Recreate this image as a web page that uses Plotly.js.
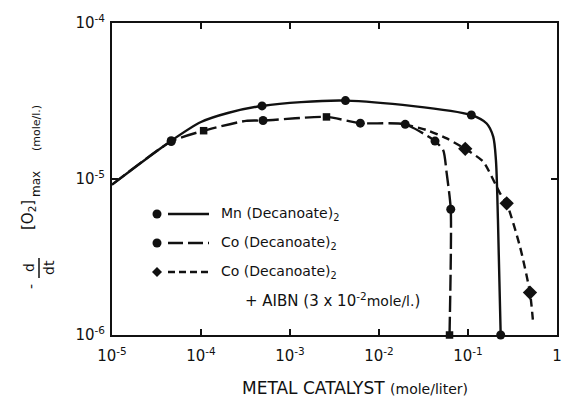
<!DOCTYPE html>
<html>
<head>
<meta charset="utf-8">
<script src="https://cdn.plot.ly/plotly-3.0.1.min.js"></script>
<style>
  html, body { margin: 0; padding: 0; background: #fff; }
  #chart { width: 562px; height: 402px; }
</style>
</head>
<body>
<div id="chart"></div>
<script>
// Maximum oxygen uptake rate vs. metal catalyst concentration (log-log)

// Mn (Decanoate)2 — solid curve
const mnX = [1.0e-5, 4.63e-5, 1.0e-4, 2.0e-4, 4.85e-4, 4.2e-3, 0.109, 0.162, 0.192, 0.206, 0.217, 0.233];
const mnY = [9.2e-6, 1.76e-5, 2.32e-5, 2.65e-5, 2.94e-5, 3.18e-5, 2.57e-5, 2.27e-5, 1.87e-5, 1.32e-5, 5.5e-6, 1.0e-6];
const mnMarked = [0, 1, 0, 0, 1, 1, 1, 0, 0, 0, 0, 1];

// Co (Decanoate)2 — long-dash curve
const coX = [1.0e-5, 4.63e-5, 1.07e-4, 3.2e-4, 4.98e-4, 2.57e-3, 6.17e-3, 1.97e-2, 4.26e-2, 0.0527, 0.0576, 0.064, 0.062];
const coY = [9.2e-6, 1.74e-5, 2.04e-5, 2.36e-5, 2.37e-5, 2.50e-5, 2.28e-5, 2.24e-5, 1.75e-5, 1.53e-5, 1.09e-5, 6.4e-6, 1.0e-6];
const coMarked = [0, 1, 2, 0, 1, 2, 1, 1, 1, 0, 0, 1, 2];   // 1 = circle, 2 = square

// Co (Decanoate)2 + AIBN — short-dash curve
const aiX = [0.0197, 0.0343, 0.0577, 0.0931, 0.1486, 0.229, 0.272, 0.384, 0.497, 0.542];
const aiY = [2.24e-5, 2.06e-5, 1.82e-5, 1.56e-5, 1.29e-5, 8.09e-6, 6.98e-6, 3.68e-6, 1.87e-6, 1.16e-6];
const aiMarked = [0, 0, 0, 1, 0, 0, 1, 0, 1, 0];

// Axis ticks
const xTickVals = [1e-5, 1e-4, 1e-3, 1e-2, 1e-1, 1];
const xTickText = ['10<sup>-5</sup>', '10<sup>-4</sup>', '10<sup>-3</sup>', '10<sup>-2</sup>', '10<sup>-1</sup>', '1'];
const yTickVals = [1e-6, 1e-5, 1e-4];
const yTickText = ['10<sup>-6</sup>', '10<sup>-5</sup>', '10<sup>-4</sup>'];

// Legend labels
const legendLabels = ['Mn (Decanoate)<sub>2</sub>', 'Co (Decanoate)<sub>2</sub>', 'Co (Decanoate)<sub>2</sub>'];
const legendNote = '+ AIBN (3 x 10<sup>-2</sup><span style="font-size:14px">mole/l.</span>)';

const FONT = 'DejaVu Sans, Liberation Sans, sans-serif';
const INK = '#111';

// plot-area geometry (pixels)
const W = 562, H = 402;
const M = { l: 112, r: 5, t: 23, b: 67 };
const PW = W - M.l - M.r, PH = H - M.t - M.b;
const px = v => (v - M.l) / PW;          // pixel x -> paper x
const py = v => (H - M.b - v) / PH;      // pixel y -> paper y

const markerBase = { color: INK, opacity: 1, line: { width: 0 } };

const traces = [
  {
    x: mnX, y: mnY, mode: 'lines+markers', type: 'scatter', cliponaxis: false,
    line: { color: INK, width: 2.4, shape: 'spline', smoothing: 0.8 },
    marker: Object.assign({}, markerBase, { symbol: 'circle', size: mnMarked.map(m => m ? 9 : 0) }),
    hoverinfo: 'skip'
  },
  {
    x: coX, y: coY, mode: 'lines+markers', type: 'scatter', cliponaxis: false,
    line: { color: INK, width: 2.4, dash: '16px,5px', shape: 'spline', smoothing: 0.6 },
    marker: Object.assign({}, markerBase, {
      symbol: coMarked.map(m => m === 2 ? 'square' : 'circle'),
      size: coMarked.map(m => m === 2 ? 7.5 : (m ? 9 : 0))
    }),
    hoverinfo: 'skip'
  },
  {
    x: aiX, y: aiY, mode: 'lines+markers', type: 'scatter', cliponaxis: false,
    line: { color: INK, width: 2.4, dash: '8px,5px', shape: 'spline', smoothing: 0.6 },
    marker: Object.assign({}, markerBase, { symbol: 'diamond', size: aiMarked.map(m => m ? 11 : 0) }),
    hoverinfo: 'skip'
  }
];

// Hand-built legend: marker, line sample, label
const rows = [214, 243, 272];
const dashes = ['solid', '15px,5px', '7px,4px'];
const shapes = [];
const annotations = [];
rows.forEach((ry, i) => {
  shapes.push({
    type: 'line', xref: 'paper', yref: 'paper',
    x0: px(168), x1: px(209), y0: py(ry), y1: py(ry),
    line: { color: INK, width: 2.6, dash: dashes[i] }
  });
  if (i < 2) {
    shapes.push({
      type: 'circle', xref: 'paper', yref: 'paper', xsizemode: 'pixel', ysizemode: 'pixel',
      xanchor: px(157), yanchor: py(ry), x0: -4.5, x1: 4.5, y0: -4.5, y1: 4.5,
      fillcolor: INK, line: { width: 0 }
    });
  } else {
    shapes.push({
      type: 'path', xref: 'paper', yref: 'paper', xsizemode: 'pixel', ysizemode: 'pixel',
      xanchor: px(157), yanchor: py(ry), path: 'M -5 0 L 0 5 L 5 0 L 0 -5 Z',
      fillcolor: INK, line: { width: 0 }
    });
  }
  annotations.push({
    xref: 'paper', yref: 'paper', x: px(219), y: py(ry), xanchor: 'left', yanchor: 'middle',
    text: legendLabels[i], showarrow: false, font: { family: FONT, size: 14, color: INK }
  });
});
annotations.push({
  xref: 'paper', yref: 'paper', x: px(243), y: py(300), xanchor: 'left', yanchor: 'middle',
  text: legendNote, showarrow: false, font: { family: FONT, size: 15, color: INK }
});

// Y-axis title:  - d/dt [O2]max (mole/l.)
const yt = (text, x, y, size) => ({
  xref: 'paper', yref: 'paper', x: px(x), y: py(y), xanchor: 'center', yanchor: 'middle',
  text, textangle: -90, showarrow: false, font: { family: FONT, size, color: INK }
});
annotations.push(yt('-', 31, 287, 14));
annotations.push(yt('d', 29, 268, 14));
annotations.push(yt('dt', 49, 268, 14));
annotations.push(yt('[O<sub>2</sub>]', 28, 215, 15));
annotations.push(yt('max', 36, 184, 12));
annotations.push(yt('(mole/l.)', 36, 128, 11));
shapes.push({
  type: 'line', xref: 'paper', yref: 'paper',
  x0: px(39), x1: px(39), y0: py(258), y1: py(278),
  line: { color: INK, width: 1.5 }
});

// X-axis title
annotations.push({
  xref: 'paper', yref: 'paper', x: px(355), y: py(388), xanchor: 'center', yanchor: 'middle',
  text: 'METAL CATALYST <span style="font-size:14px">(mole/liter)</span>',
  showarrow: false, font: { family: FONT, size: 17, color: INK }
});

const axisCommon = {
  type: 'log', showgrid: false, zeroline: false, showline: true,
  linecolor: INK, linewidth: 2, mirror: 'ticks',
  ticks: 'inside', ticklen: 6, tickwidth: 1.5, tickcolor: INK,
  tickfont: { family: FONT, size: 15, color: INK }, tickmode: 'array'
};

const layout = {
  width: W, height: H, margin: M,
  paper_bgcolor: '#fff', plot_bgcolor: '#fff', showlegend: false,
  xaxis: Object.assign({}, axisCommon, {
    range: [-5, 0], tickvals: xTickVals, ticktext: xTickText, ticklabelstandoff: 6
  }),
  yaxis: Object.assign({}, axisCommon, {
    range: [-6, -4], tickvals: yTickVals, ticktext: yTickText, ticklabelstandoff: 2
  }),
  shapes, annotations
};

Plotly.newPlot('chart', traces, layout, { staticPlot: true, displayModeBar: false });
</script>
</body>
</html>
